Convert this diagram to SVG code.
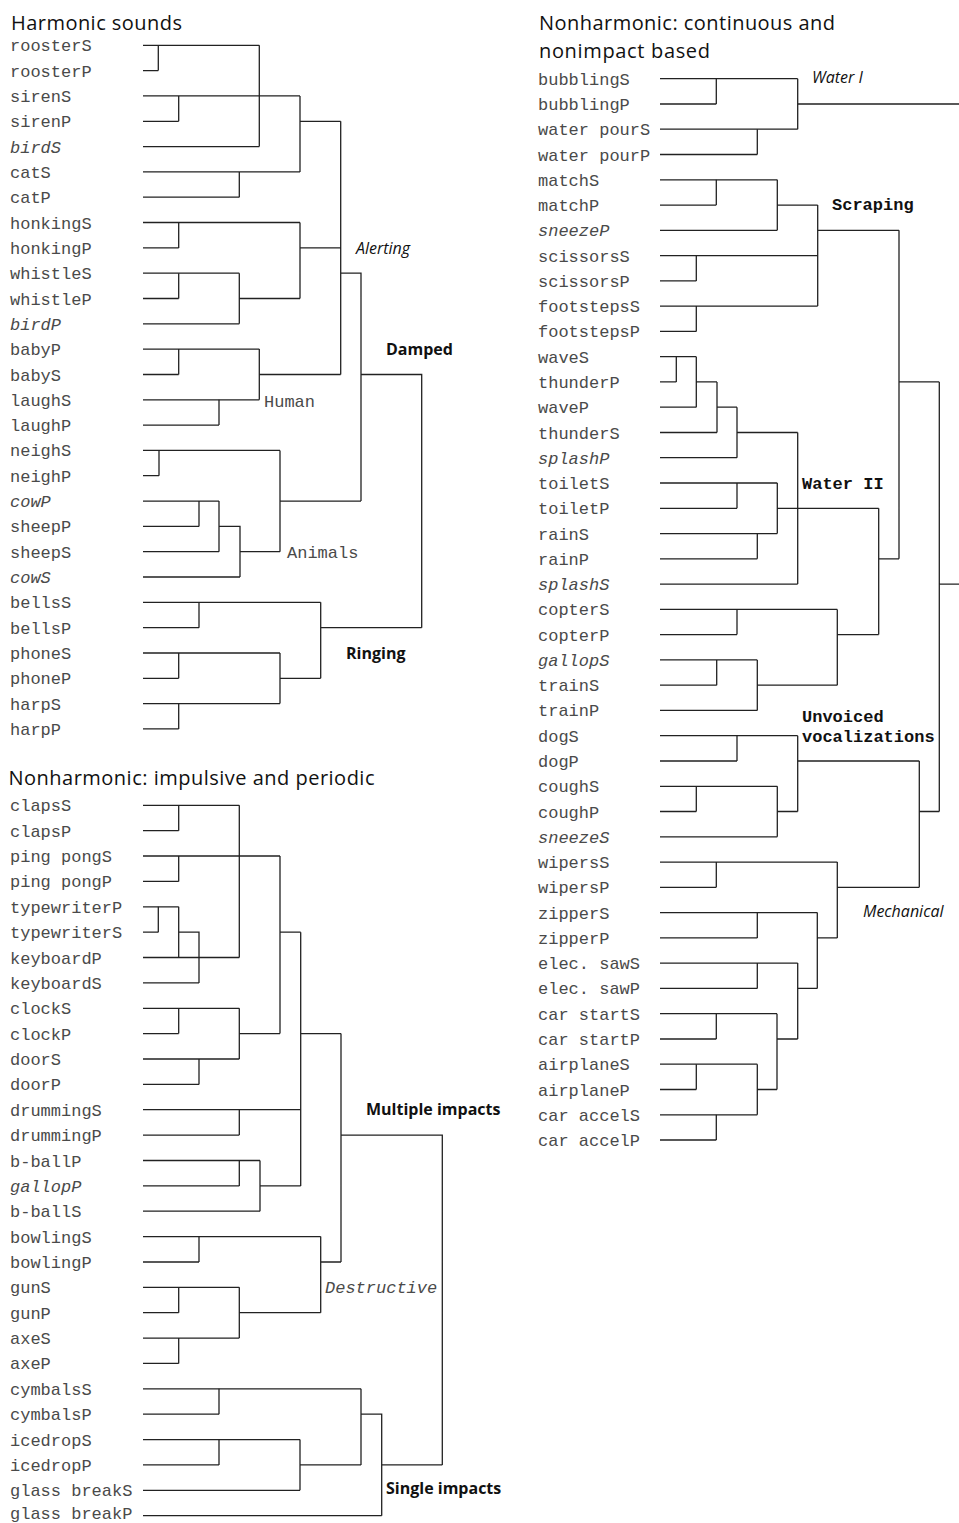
<svg xmlns="http://www.w3.org/2000/svg" width="959" height="1523" viewBox="0 0 959 1523">
<style>
.lf{font-family:"Liberation Mono","Courier New",monospace;font-size:17px;fill:#4a4a4a}
.it{font-style:italic}
.t{font-family:"Open Sans","Noto Sans",sans-serif;font-size:20px;fill:#111}
.gb{font-family:"Open Sans","Noto Sans",sans-serif;font-weight:bold;font-size:16px;fill:#111}
.gi{font-family:"Open Sans","Noto Sans",sans-serif;font-style:italic;font-size:16px;fill:#111}
.gm{font-family:"Liberation Mono","Courier New",monospace;font-size:17px;fill:#4a4a4a}
.gmb{font-family:"Liberation Mono","Courier New",monospace;font-weight:bold;font-size:17px;fill:#111}
.c{fill:none;stroke:#222;stroke-width:1.3}
</style>
<rect width="959" height="1523" fill="#fff"/>
<g id="titles">
<text class="t" x="11" y="29.5" textLength="171" lengthAdjust="spacing">Harmonic sounds</text>
<text class="t" x="8.5" y="785" textLength="366" lengthAdjust="spacing">Nonharmonic: impulsive and periodic</text>
<text class="t" x="539" y="29.5" textLength="296" lengthAdjust="spacing">Nonharmonic: continuous and</text>
<text class="t" x="539" y="57.5" textLength="171" lengthAdjust="spacing">nonimpact based</text>
</g>
<g id="connectors">
<path class="c" d="M143 45.3H259.3M143 70.6H158.3M143 95.9H300M143 121.3H178.7M143 146.6H259.3M143 171.9H300M143 197.2H239.3M143 222.5H300M143 247.9H178.7M143 273.2H239.3M143 298.5H178.7M143 323.8H239.3M143 349.1H259.3M143 374.5H178.7M143 399.8H259.3M143 425.1H219M143 450.4H280M143 475.7H159M143 501.1H219M143 526.4H199M143 551.7H219M143 577H240M143 602.3H320.7M143 627.7H199M143 653H280M143 678.3H178.7M143 703.6H280M143 728.9H178.7"/>
<path class="c" d="M158.3 45.3V70.6M178.7 95.9V121.3M259.3 45.3V146.6M239.3 171.9V197.2M300 95.9V171.9M300 121.3H340.7M178.7 222.5V247.9M178.7 273.2V298.5M239.3 273.2V323.8M239.3 298.5H300M300 222.5V298.5M300 247.9H340.7M340.7 121.3V374.5M340.7 273.2H361V501.1M361 374.5H421.7V627.7M178.7 349.1V374.5M219 399.8V425.1M259.3 349.1V399.8M259.3 374.5H340.7M159 450.4V475.7M199 501.1V526.4M219 501.1V551.7M219 526.4H240V577M240 551.7H280M280 450.4V551.7M280 501.1H361M199 602.3V627.7M178.7 653V678.3M178.7 703.6V728.9M280 653V703.6M280 678.3H320.7M320.7 602.3V678.3M320.7 627.7H421.7"/>
<path class="c" d="M143 805.3H239.3M143 830.7H178.7M143 856H280M143 881.4H178.7M143 906.8H178.7M143 932.2H158.3M143 957.5H239.3M143 982.9H199M143 1008.3H239.3M143 1033.6H178.7M143 1059H239.3M143 1084.4H199M143 1109.7H300.7M143 1135.1H239.3M143 1160.5H260M143 1185.9H239.3M143 1211.2H260M143 1236.6H320.7M143 1262H199M143 1287.3H239.3M143 1312.7H178.7M143 1338.1H239.3M143 1363.4H178.7M143 1388.8H361M143 1414.2H219M143 1439.6H300M143 1464.9H219M143 1490.3H300M143 1515.7H381.7"/>
<path class="c" d="M178.7 805.3V830.7M178.7 856V881.4M158.3 906.8V932.2M178.7 906.8V957.5M178.7 932.2H199V982.9M239.3 805.3V957.5M178.7 1008.3V1033.6M199 1059V1084.4M239.3 1008.3V1059M239.3 1033.6H280M280 856V1033.6M280 932.2H300.7M239.3 1109.7V1135.1M239.3 1160.5V1185.9M260 1160.5V1211.2M260 1185.9H300.7M300.7 932.2V1185.9M300.7 1033.6H341M199 1236.6V1262M178.7 1287.3V1312.7M178.7 1338.1V1363.4M239.3 1287.3V1338.1M239.3 1312.7H320.7M320.7 1236.6V1312.7M320.7 1262H341M341 1033.6V1262M341 1135.1H442.3V1464.9M219 1388.8V1414.2M219 1439.6V1464.9M300 1439.6V1490.3M300 1464.9H361M361 1388.8V1464.9M361 1414.2H381.7V1515.7M381.7 1464.9H442.3"/>
<path class="c" d="M660 78.7H797.7M660 104H716.3M660 129.2H797.7M660 154.5H757.3M660 179.8H777.3M660 205.1H716.3M660 230.3H777.3M660 255.6H817.7M660 280.9H696.3M660 306.1H817.7M660 331.4H696.3M660 356.7H696.3M660 381.9H676.3M660 407.2H696.3M660 432.5H717M660 457.7H737M660 483H777.3M660 508.3H737M660 533.6H777.3M660 558.8H757.3M660 584.1H797.7M660 609.4H837.3M660 634.6H737M660 659.9H757.3M660 685.2H716.7M660 710.4H757.3M660 735.7H797.7M660 761H737M660 786.3H777.3M660 811.5H696.3M660 836.8H777.3M660 862.1H837.3M660 887.3H716.3M660 912.6H817.3M660 937.9H757.3M660 963.1H797.7M660 988.4H757.3M660 1013.7H777M660 1039H716.3M660 1064.2H757.3M660 1089.5H696.3M660 1114.8H757.3M660 1140H716.3"/>
<path class="c" d="M716.3 78.7V104M757.3 129.2V154.5M797.7 78.7V129.2M797.7 104H959M716.3 179.8V205.1M777.3 179.8V230.3M777.3 205.1H817.7M817.7 205.1V306.1M696.3 255.6V280.9M696.3 306.1V331.4M817.7 230.3H899M899 230.3V558.8M899 381.9H939.3M939.3 381.9V811.5M939.3 584.1H959M676.3 356.7V381.9M696.3 356.7V407.2M696.3 381.9H717M717 381.9V432.5M717 407.2H737M737 407.2V457.7M737 432.5H797.7M797.7 432.5V584.1M737 483V508.3M757.3 533.6V558.8M777.3 483V533.6M777.3 508.3H878.7M878.7 508.3V634.6M878.7 558.8H899M737 609.4V634.6M716.7 659.9V685.2M757.3 659.9V710.4M757.3 685.2H837.3M837.3 609.4V685.2M837.3 634.6H878.7M737 735.7V761M696.3 786.3V811.5M777.3 786.3V836.8M777.3 811.5H797.7M797.7 735.7V811.5M797.7 761H919.3M919.3 761V887.3M919.3 811.5H939.3M716.3 862.1V887.3M837.3 862.1V937.9M837.3 887.3H919.3M757.3 912.6V937.9M817.3 937.9H837.3M817.3 912.6V988.4M757.3 963.1V988.4M797.7 988.4H817.3M797.7 963.1V1039M716.3 1013.7V1039M777 1039H797.7M777 1013.7V1089.5M696.3 1064.2V1089.5M757.3 1089.5H777M757.3 1064.2V1114.8M716.3 1114.8V1140"/>
</g>
<g id="harmonic-leaves">
<g id="n-roosterS"><text class="lf" x="10" y="51.3">roosterS</text></g>
<g id="n-roosterP"><text class="lf" x="10" y="76.6">roosterP</text></g>
<g id="n-sirenS"><text class="lf" x="10" y="101.9">sirenS</text></g>
<g id="n-sirenP"><text class="lf" x="10" y="127.3">sirenP</text></g>
<g id="n-birdS"><text class="lf it" x="10" y="152.6">birdS</text></g>
<g id="n-catS"><text class="lf" x="10" y="177.9">catS</text></g>
<g id="n-catP"><text class="lf" x="10" y="203.2">catP</text></g>
<g id="n-honkingS"><text class="lf" x="10" y="228.5">honkingS</text></g>
<g id="n-honkingP"><text class="lf" x="10" y="253.9">honkingP</text></g>
<g id="n-whistleS"><text class="lf" x="10" y="279.2">whistleS</text></g>
<g id="n-whistleP"><text class="lf" x="10" y="304.5">whistleP</text></g>
<g id="n-birdP"><text class="lf it" x="10" y="329.8">birdP</text></g>
<g id="n-babyP"><text class="lf" x="10" y="355.1">babyP</text></g>
<g id="n-babyS"><text class="lf" x="10" y="380.5">babyS</text></g>
<g id="n-laughS"><text class="lf" x="10" y="405.8">laughS</text></g>
<g id="n-laughP"><text class="lf" x="10" y="431.1">laughP</text></g>
<g id="n-neighS"><text class="lf" x="10" y="456.4">neighS</text></g>
<g id="n-neighP"><text class="lf" x="10" y="481.7">neighP</text></g>
<g id="n-cowP"><text class="lf it" x="10" y="507.1">cowP</text></g>
<g id="n-sheepP"><text class="lf" x="10" y="532.4">sheepP</text></g>
<g id="n-sheepS"><text class="lf" x="10" y="557.7">sheepS</text></g>
<g id="n-cowS"><text class="lf it" x="10" y="583">cowS</text></g>
<g id="n-bellsS"><text class="lf" x="10" y="608.3">bellsS</text></g>
<g id="n-bellsP"><text class="lf" x="10" y="633.7">bellsP</text></g>
<g id="n-phoneS"><text class="lf" x="10" y="659">phoneS</text></g>
<g id="n-phoneP"><text class="lf" x="10" y="684.3">phoneP</text></g>
<g id="n-harpS"><text class="lf" x="10" y="709.6">harpS</text></g>
<g id="n-harpP"><text class="lf" x="10" y="734.9">harpP</text></g>
</g>
<g id="impulsive-leaves">
<g id="n-clapsS"><text class="lf" x="10" y="811.3">clapsS</text></g>
<g id="n-clapsP"><text class="lf" x="10" y="836.7">clapsP</text></g>
<g id="n-pingpongS"><text class="lf" x="10" y="862" xml:space="preserve">ping pongS</text></g>
<g id="n-pingpongP"><text class="lf" x="10" y="887.4" xml:space="preserve">ping pongP</text></g>
<g id="n-typewriterP"><text class="lf" x="10" y="912.8">typewriterP</text></g>
<g id="n-typewriterS"><text class="lf" x="10" y="938.2">typewriterS</text></g>
<g id="n-keyboardP"><text class="lf" x="10" y="963.5">keyboardP</text></g>
<g id="n-keyboardS"><text class="lf" x="10" y="988.9">keyboardS</text></g>
<g id="n-clockS"><text class="lf" x="10" y="1014.3">clockS</text></g>
<g id="n-clockP"><text class="lf" x="10" y="1039.6">clockP</text></g>
<g id="n-doorS"><text class="lf" x="10" y="1065">doorS</text></g>
<g id="n-doorP"><text class="lf" x="10" y="1090.4">doorP</text></g>
<g id="n-drummingS"><text class="lf" x="10" y="1115.7">drummingS</text></g>
<g id="n-drummingP"><text class="lf" x="10" y="1141.1">drummingP</text></g>
<g id="n-bballP"><text class="lf" x="10" y="1166.5">b-ballP</text></g>
<g id="n-gallopP"><text class="lf it" x="10" y="1191.9">gallopP</text></g>
<g id="n-bballS"><text class="lf" x="10" y="1217.2">b-ballS</text></g>
<g id="n-bowlingS"><text class="lf" x="10" y="1242.6">bowlingS</text></g>
<g id="n-bowlingP"><text class="lf" x="10" y="1268">bowlingP</text></g>
<g id="n-gunS"><text class="lf" x="10" y="1293.3">gunS</text></g>
<g id="n-gunP"><text class="lf" x="10" y="1318.7">gunP</text></g>
<g id="n-axeS"><text class="lf" x="10" y="1344.1">axeS</text></g>
<g id="n-axeP"><text class="lf" x="10" y="1369.4">axeP</text></g>
<g id="n-cymbalsS"><text class="lf" x="10" y="1394.8">cymbalsS</text></g>
<g id="n-cymbalsP"><text class="lf" x="10" y="1420.2">cymbalsP</text></g>
<g id="n-icedropS"><text class="lf" x="10" y="1445.6">icedropS</text></g>
<g id="n-icedropP"><text class="lf" x="10" y="1470.9">icedropP</text></g>
<g id="n-glassbreakS"><text class="lf" x="10" y="1496.3" xml:space="preserve">glass breakS</text></g>
<g id="n-glassbreakP"><text class="lf" x="10" y="1518.5" xml:space="preserve">glass breakP</text></g>
</g>
<g id="continuous-leaves">
<g id="n-bubblingS"><text class="lf" x="538" y="84.7">bubblingS</text></g>
<g id="n-bubblingP"><text class="lf" x="538" y="110">bubblingP</text></g>
<g id="n-waterpourS"><text class="lf" x="538" y="135.2" xml:space="preserve">water pourS</text></g>
<g id="n-waterpourP"><text class="lf" x="538" y="160.5" xml:space="preserve">water pourP</text></g>
<g id="n-matchS"><text class="lf" x="538" y="185.8">matchS</text></g>
<g id="n-matchP"><text class="lf" x="538" y="211.1">matchP</text></g>
<g id="n-sneezeP"><text class="lf it" x="538" y="236.3">sneezeP</text></g>
<g id="n-scissorsS"><text class="lf" x="538" y="261.6">scissorsS</text></g>
<g id="n-scissorsP"><text class="lf" x="538" y="286.9">scissorsP</text></g>
<g id="n-footstepsS"><text class="lf" x="538" y="312.1">footstepsS</text></g>
<g id="n-footstepsP"><text class="lf" x="538" y="337.4">footstepsP</text></g>
<g id="n-waveS"><text class="lf" x="538" y="362.7">waveS</text></g>
<g id="n-thunderP"><text class="lf" x="538" y="387.9">thunderP</text></g>
<g id="n-waveP"><text class="lf" x="538" y="413.2">waveP</text></g>
<g id="n-thunderS"><text class="lf" x="538" y="438.5">thunderS</text></g>
<g id="n-splashP"><text class="lf it" x="538" y="463.7">splashP</text></g>
<g id="n-toiletS"><text class="lf" x="538" y="489">toiletS</text></g>
<g id="n-toiletP"><text class="lf" x="538" y="514.3">toiletP</text></g>
<g id="n-rainS"><text class="lf" x="538" y="539.6">rainS</text></g>
<g id="n-rainP"><text class="lf" x="538" y="564.8">rainP</text></g>
<g id="n-splashS"><text class="lf it" x="538" y="590.1">splashS</text></g>
<g id="n-copterS"><text class="lf" x="538" y="615.4">copterS</text></g>
<g id="n-copterP"><text class="lf" x="538" y="640.6">copterP</text></g>
<g id="n-gallopS"><text class="lf it" x="538" y="665.9">gallopS</text></g>
<g id="n-trainS"><text class="lf" x="538" y="691.2">trainS</text></g>
<g id="n-trainP"><text class="lf" x="538" y="716.4">trainP</text></g>
<g id="n-dogS"><text class="lf" x="538" y="741.7">dogS</text></g>
<g id="n-dogP"><text class="lf" x="538" y="767">dogP</text></g>
<g id="n-coughS"><text class="lf" x="538" y="792.3">coughS</text></g>
<g id="n-coughP"><text class="lf" x="538" y="817.5">coughP</text></g>
<g id="n-sneezeS"><text class="lf it" x="538" y="842.8">sneezeS</text></g>
<g id="n-wipersS"><text class="lf" x="538" y="868.1">wipersS</text></g>
<g id="n-wipersP"><text class="lf" x="538" y="893.3">wipersP</text></g>
<g id="n-zipperS"><text class="lf" x="538" y="918.6">zipperS</text></g>
<g id="n-zipperP"><text class="lf" x="538" y="943.9">zipperP</text></g>
<g id="n-elecsawS"><text class="lf" x="538" y="969.1" xml:space="preserve">elec. sawS</text></g>
<g id="n-elecsawP"><text class="lf" x="538" y="994.4" xml:space="preserve">elec. sawP</text></g>
<g id="n-carstartS"><text class="lf" x="538" y="1019.7" xml:space="preserve">car startS</text></g>
<g id="n-carstartP"><text class="lf" x="538" y="1045" xml:space="preserve">car startP</text></g>
<g id="n-airplaneS"><text class="lf" x="538" y="1070.2">airplaneS</text></g>
<g id="n-airplaneP"><text class="lf" x="538" y="1095.5">airplaneP</text></g>
<g id="n-caraccelS"><text class="lf" x="538" y="1120.8" xml:space="preserve">car accelS</text></g>
<g id="n-caraccelP"><text class="lf" x="538" y="1146" xml:space="preserve">car accelP</text></g>
</g>
<g id="cluster-labels">
<g id="l-alerting"><text class="gi" x="356" y="254">Alerting</text></g>
<g id="l-damped"><text class="gb" x="386" y="355">Damped</text></g>
<g id="l-human"><text class="gm" x="264" y="406.5">Human</text></g>
<g id="l-animals"><text class="gm" x="287" y="557.5">Animals</text></g>
<g id="l-ringing"><text class="gb" x="346" y="659">Ringing</text></g>
<g id="l-multiple"><text class="gb" x="366" y="1115">Multiple impacts</text></g>
<g id="l-destructive"><text class="gm it" x="325" y="1292.7">Destructive</text></g>
<g id="l-single"><text class="gb" x="386" y="1494">Single impacts</text></g>
<g id="l-water1"><text class="gi" x="812" y="83">Water I</text></g>
<g id="l-scraping"><text class="gmb" x="832" y="210">Scraping</text></g>
<g id="l-water2"><text class="gmb" x="802" y="488.5" xml:space="preserve">Water II</text></g>
<g id="l-unvoiced"><text class="gmb" x="802" y="722">Unvoiced</text><text class="gmb" x="802" y="742">vocalizations</text></g>
<g id="l-mechanical"><text class="gi" x="863" y="917">Mechanical</text></g>
</g>
</svg>
